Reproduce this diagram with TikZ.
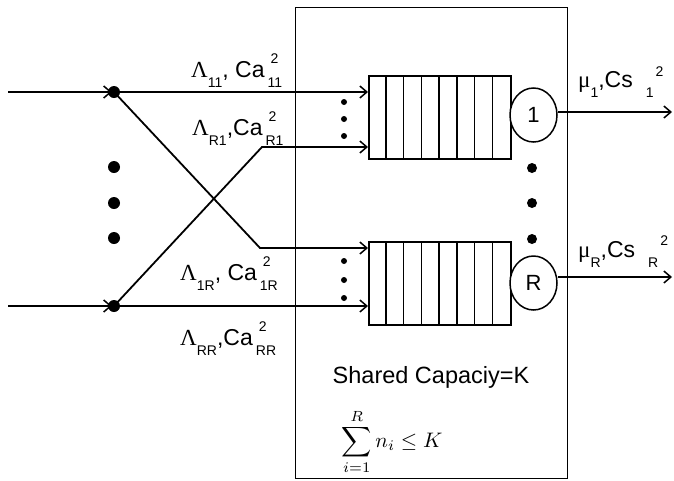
\documentclass[tikz,border=0pt]{standalone}
\usepackage{graphicx}
\usepackage{fontspec}
\setmainfont{Liberation Sans}
\newfontfamily\gr{Liberation Serif}
\usetikzlibrary{arrows.meta,shapes.geometric}
\newcommand\subf{\fontsize{14}{14}\selectfont}
\newcommand\sbx[1]{\raisebox{-10pt}{\subf #1}}
\newcommand\stk[3]{\rlap{\hspace{#3}\raisebox{14pt}{\subf #1}}\raisebox{-10pt}{\subf #2}}
\tikzset{
  ln/.style={line width=1.8pt},
  arr/.style={ln,-{Straight Barb[length=7pt,width=12pt,line width=1.5pt]}},
  bigdot/.style={circle,fill,inner sep=0pt,minimum size=12pt},
  meddot/.style={circle,fill,inner sep=0pt,minimum size=10pt},
  smalldot/.style={circle,fill,inner sep=0pt,minimum size=6pt},
  qbox/.style={draw,line width=1.5pt,inner sep=0pt,minimum width=142pt,minimum height=83pt,anchor=north west},
  srv/.style={ellipse,draw,line width=1.5pt,fill=white,inner sep=0pt,minimum width=47pt,minimum height=54pt,font=\fontsize{22}{22}\selectfont},
  lab/.style={anchor=base west,inner sep=0pt,font=\fontsize{23}{23}\selectfont},
  boxst/.style={draw,line width=1.4pt,inner sep=0pt,minimum width=272pt,minimum height=471pt,anchor=north west}
}
\begin{document}
\begin{tikzpicture}[x=1pt,y=-1pt]
\useasboundingbox (0,0) rectangle (674,480);
% shared capacity box
\node[boxst] (box) at (295,7) {};
% queues
\node[qbox] (q1) at (368,75) {};
\node[qbox] (q2) at (368,241) {};
\foreach \k in {1,...,7} {
  \draw[line width=1.5pt] ([xshift=\k*17.75pt]q1.north west) -- ([xshift=\k*17.75pt]q1.south west);
  \draw[line width=1.5pt] ([xshift=\k*17.75pt]q2.north west) -- ([xshift=\k*17.75pt]q2.south west);
}
% servers
\node[srv] (c1) at (533.5,115) {1};
\node[srv] (c2) at (533.5,283) {R};
% dots
\node[bigdot] (d1) at (114,92) {};
\node[bigdot] (d2) at (114,306) {};
\node[bigdot] (e1) at (114,167) {};
\node[bigdot] (e2) at (114,203) {};
\node[bigdot] (e3) at (114,238) {};
\node[meddot] (m1) at (532,168) {};
\node[meddot] (m2) at (532,203) {};
\node[meddot] (m3) at (532,239) {};
\node[smalldot] (s1) at (344,102) {};
\node[smalldot] (s2) at (344,119) {};
\node[smalldot] (s3) at (344,136) {};
\node[smalldot] (s4) at (344,261) {};
\node[smalldot] (s5) at (344,280) {};
\node[smalldot] (s6) at (344,298) {};
% inputs
\coordinate (i1) at (8,92);
\coordinate (i2) at (8,306);
\draw[arr,shorten >=-4pt] (i1) -- (d1);
\draw[arr,shorten >=-4pt] (i2) -- (d2);
% routing
\coordinate (k1) at (260,248);
\coordinate (k2) at (262,147);
\draw[arr] (d1) -- (d1 -| q1.west);
\draw[arr] (d1.center) -- (k1) -- (k1 -| q2.west);
\draw[arr] (d2.center) -- (k2) -- (k2 -| q1.west);
\draw[arr] (d2) -- (d2 -| q2.west);
% outputs
\coordinate (o1) at (672,112);
\coordinate (o2) at (672,277);
\draw[arr] (c1.east |- o1) -- (o1);
\draw[arr] (c2.east |- o2) -- (o2);
% labels
\node[lab] (l11) at (191,77) {{\gr Λ}\sbx{11}, Ca\hspace{3pt}\stk{2}{11}{3pt}};
\node[lab] (lr1) at (192,135) {{\gr Λ}\sbx{R1},Ca\hspace{3pt}\stk{2}{R1}{3pt}};
\node[lab] (l1r) at (180,280) {{\gr Λ}\sbx{1R}, Ca\hspace{3pt}\stk{2}{1R}{3pt}};
\node[lab] (lrr) at (180,345) {{\gr Λ}\sbx{RR},Ca\hspace{3pt}\stk{2}{RR}{3pt}};
\node[lab] (mu1) at (578,87) {{\gr μ}\sbx{1},Cs\hspace{13pt}\sbx{1}\hspace{2pt}\raisebox{11pt}{\subf 2}};
\node[lab] (mur) at (578,257) {{\gr μ}\sbx{R},Cs\hspace{13pt}\sbx{R}\hspace{2pt}\raisebox{12pt}{\subf 2}};
\node[anchor=base,inner sep=0pt,font=\fontsize{23.5}{24}\selectfont] (cap) at (431,383) {Shared Capaciy=K};
\node[inner sep=0pt] (sum) at (392,442) {\scalebox{2.1}{$\displaystyle\sum_{i=1}^{R} n_i \le K$}};
\end{tikzpicture}
\end{document}
